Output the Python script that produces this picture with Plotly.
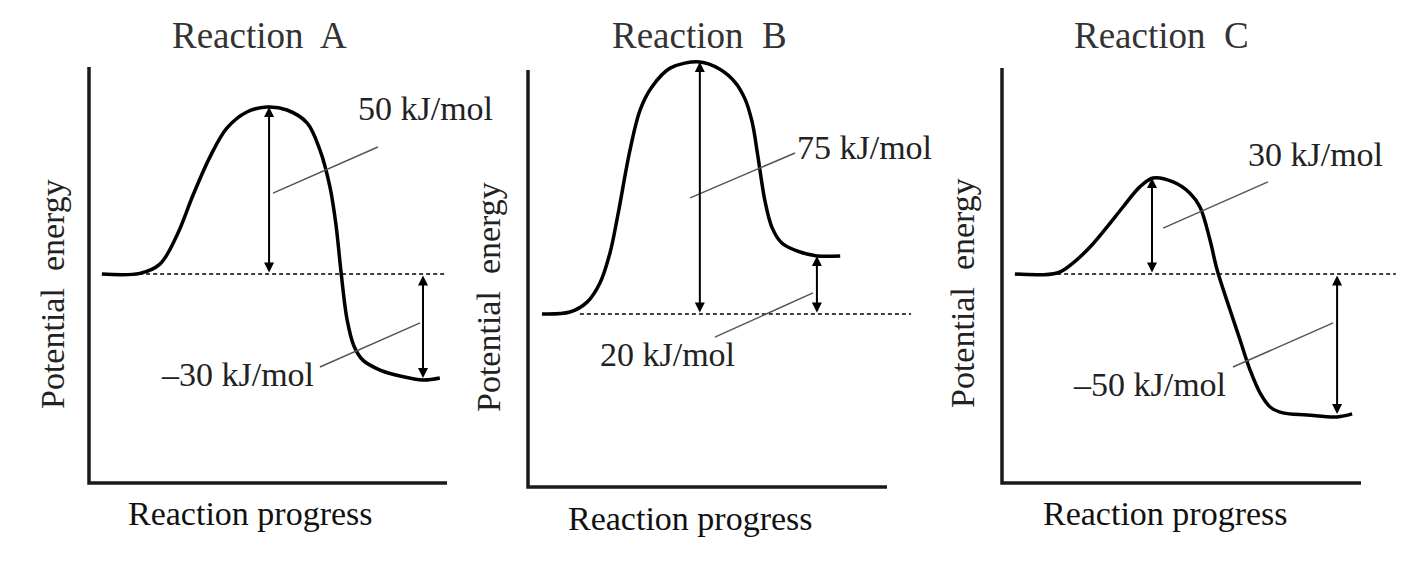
import plotly.graph_objects as go

W, H = 1406, 562
OFF = 8  # page body margin of the browser
FW, FH = W - OFF, H - OFF

# ---- data (progress 0..100 along x axis, energy in kJ/mol, reactants = 0)
titles = ["Reaction  A", "Reaction  B", "Reaction  C"]
ea_labels = ["50 kJ/mol", "75 kJ/mol", "30 kJ/mol"]
dh_labels = ["–30 kJ/mol", "20 kJ/mol", "–50 kJ/mol"]

progress_a = [3.6, 14.2, 19.8, 24.6, 29.1, 33.8, 38.5, 44.1, 49.7, 55.3, 60.9, 64.5, 67.3,
              69.0, 70.4, 72.1, 74.0, 76.5, 81.3, 86.9, 93.3, 98.0]
energy_a = [0, 0.2, 3.0, 11.8, 24.0, 35.5, 44.2, 49.1, 50.6, 49.7, 45.8, 37.6, 26.4,
            14.8, 0.6, -13.9, -21.8, -26.1, -29.1, -30.9, -32.1, -31.5]

progress_b = [3.9, 11.7, 16.5, 20.1, 22.9, 25.1, 28.5, 31.3, 34.6, 39.7, 48.0, 53.6, 57.8,
              60.6, 62.6, 64.2, 66.2, 68.2, 70.9, 75.1, 80.7, 87.2]
energy_b = [0, 0.6, 3.6, 9.4, 18.5, 30.0, 49.7, 61.8, 68.8, 74.5, 76.4, 74.2, 70.3,
            65.2, 58.2, 47.9, 34.2, 26.1, 21.5, 19.1, 17.6, 17.6]

progress_c = [3.6, 15.4, 19.8, 24.6, 29.3, 33.8, 38.5, 42.2, 47.8, 52.5, 55.3, 58.1, 60.1,
              63.7, 66.5, 69.3, 72.1, 74.9, 78.5, 85.2, 93.6, 97.8]
energy_c = [0, 0.3, 3.3, 8.2, 14.2, 20.3, 26.4, 29.1, 27.9, 24.5, 20.3, 10.3, 1.2,
            -10.9, -20.0, -29.1, -36.1, -40.3, -42.1, -42.7, -43.3, -42.4]

# dashed reactant level (start, end along progress)
level_a = [14, 100]
level_b = [14.5, 107]
level_c = [15.4, 110]

# where the two double arrows sit along progress (activation, reaction energy)
arrows_a = [50.3, 93.3]
arrows_b = [48.0, 80.7]
arrows_c = [41.9, 93.6]

# leader lines from arrow to label: (x pair, y pair)
lead_a = [([51.4, 80.7], [24.5, 38.5]), ([64.5, 92.5], [-28.2, -14.8])]
lead_b = [([45.3, 74.6], [35.2, 48.8]), ([52.2, 79.6], [-7.0, 6.4])]
lead_c = [([45.0, 74.3], [13.9, 27.9]), ([64.5, 92.5], [-28.2, -14.8])]

# label anchor points (progress, energy)
ea_pos = [(94.1, 50.3), (94.1, 50.6), (87.7, 36.1)]
dh_pos = [(41.6, -30.6), (39.1, -12.4), (41.3, -33.6)]

# ---- page geometry (pixels of the reference picture)
KX, KY = 3.58, 3.3
panels = [
    dict(cell=(OFF, 469), axis=89, base=274, top=67, bottom=483, end=447,
         title=259, ylab=(52, 294), xlab=(251, 513)),
    dict(cell=(469, 938), axis=528, base=314, top=70, bottom=487, end=887,
         title=699, ylab=(488, 297), xlab=(690, 518)),
    dict(cell=(938, W), axis=1002, base=274, top=68, bottom=483, end=1361,
         title=1161, ylab=(962, 293), xlab=(1165, 513)),
]
curves = [(progress_a, energy_a), (progress_b, energy_b), (progress_c, energy_c)]
levels = [level_a, level_b, level_c]
arrows = [arrows_a, arrows_b, arrows_c]
leads = [lead_a, lead_b, lead_c]


def px(x):
    return (x - OFF) / FW


def py(y):
    return 1 - (y - OFF) / FH


FONT = "Liberation Serif"
fig = go.Figure()
shapes, annotations = [], []
layout_axes = {}

for i, p in enumerate(panels):
    n = "" if i == 0 else str(i + 1)
    xr, yr = "x" + n, "y" + n
    xs, ys = curves[i]

    # energy curve
    fig.add_trace(go.Scatter(x=xs, y=ys, mode="lines", xaxis=xr, yaxis=yr,
                             line=dict(color="black", width=3.5, shape="spline", smoothing=1)))
    # dashed reactant level
    fig.add_trace(go.Scatter(x=levels[i], y=[0, 0], mode="lines", xaxis=xr, yaxis=yr,
                             line=dict(color="black", width=1.5, dash="4px,3px")))
    # leader lines
    for lx, ly in leads[i]:
        fig.add_trace(go.Scatter(x=lx, y=ly, mode="lines", xaxis=xr, yaxis=yr,
                                 line=dict(color="#555", width=1.5)))

    # double arrows: reactants -> peak, reactants -> products
    for ax_pos, target in zip(arrows[i], [max(ys), ys[-1]]):
        annotations.append(dict(x=ax_pos, y=target, ax=ax_pos, ay=0, xref=xr, yref=yr,
                                axref=xr, ayref=yr, text="", showarrow=True,
                                arrowhead=2, startarrowhead=2, arrowside="end+start",
                                arrowsize=1.0, arrowwidth=2, arrowcolor="black",
                                standoff=0, startstandoff=0))

    # value labels
    for txt, (tx, ty) in [(ea_labels[i], ea_pos[i]), (dh_labels[i], dh_pos[i])]:
        annotations.append(dict(x=tx, y=ty, xref=xr, yref=yr, text=txt, showarrow=False,
                                xanchor="center", yanchor="middle",
                                font=dict(family=FONT, size=34, color="#222")))

    # axes frame
    x_end = (p["end"] - p["axis"]) / KX
    y_bot = (p["base"] - p["bottom"]) / KY
    y_top = (p["base"] - p["top"]) / KY
    shapes.append(dict(type="path", xref=xr, yref=yr,
                       path=f"M 0,{y_top} L 0,{y_bot} L {x_end},{y_bot}",
                       line=dict(color="#1a1a1a", width=3.5)))

    # titles and axis labels
    annotations.append(dict(x=px(p["title"]), y=py(35), xref="paper", yref="paper",
                            xanchor="center", yanchor="middle",
                            text=titles[i], showarrow=False,
                            font=dict(family=FONT, size=37, color="#333")))
    annotations.append(dict(x=px(p["ylab"][0]), y=py(p["ylab"][1]), xref="paper", yref="paper",
                            xanchor="center", yanchor="middle",
                            text="Potential  energy", textangle=-90, showarrow=False,
                            font=dict(family=FONT, size=34, color="#222")))
    annotations.append(dict(x=px(p["xlab"][0]), y=py(p["xlab"][1]), xref="paper", yref="paper",
                            xanchor="center", yanchor="middle",
                            text="Reaction progress", showarrow=False,
                            font=dict(family=FONT, size=34, color="#111")))

    c0, c1 = p["cell"]
    layout_axes["xaxis" + n] = dict(domain=[px(c0), px(c1)], visible=False, fixedrange=True,
                                    range=[(c0 - p["axis"]) / KX, (c1 - p["axis"]) / KX])
    layout_axes["yaxis" + n] = dict(domain=[0, 1], visible=False, fixedrange=True,
                                    range=[(p["base"] - H) / KY, (p["base"] - OFF) / KY])

fig.update_layout(
    width=FW, height=FH,
    margin=dict(l=0, r=0, t=0, b=0),
    showlegend=False,
    plot_bgcolor="white",
    paper_bgcolor="white",
    shapes=shapes,
    annotations=annotations,
    **layout_axes,
)

fig.write_html("out.html")
